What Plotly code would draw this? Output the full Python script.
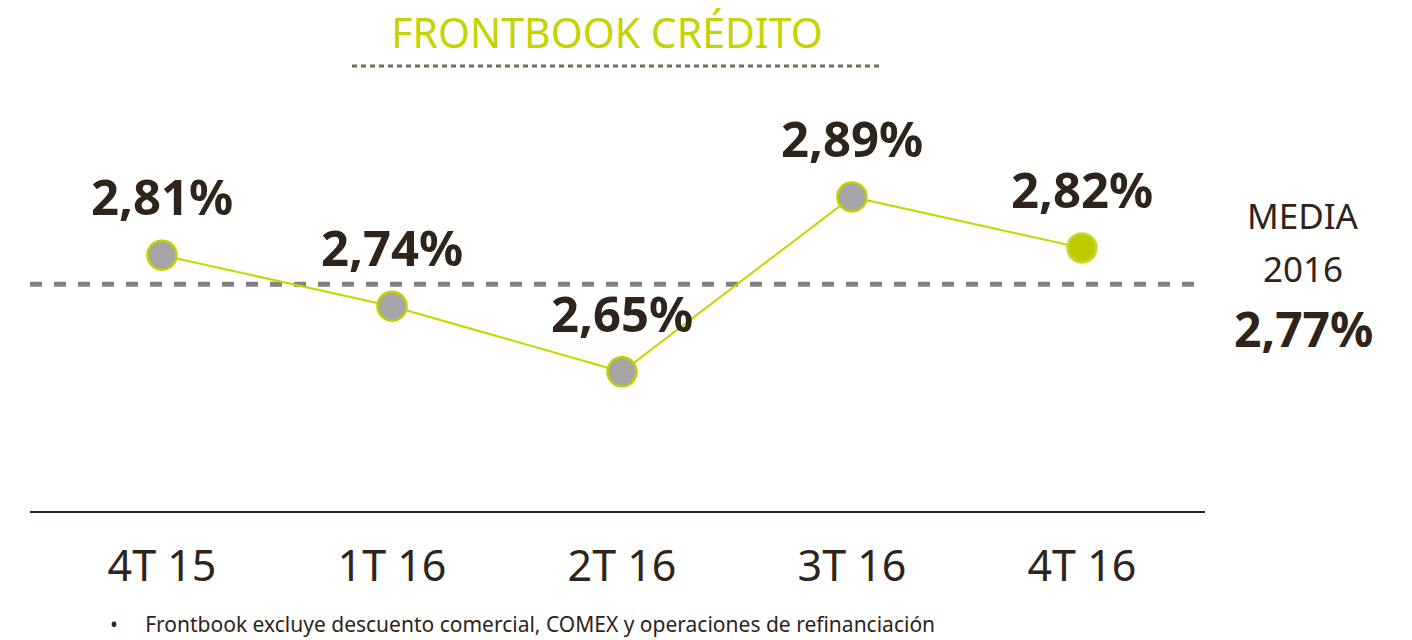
import plotly.graph_objects as go

categories = ["4T 15", "1T 16", "2T 16", "3T 16", "4T 16"]
values = [2.81, 2.74, 2.65, 2.89, 2.82]
value_labels = ["2,81%", "2,74%", "2,65%", "2,89%", "2,82%"]
mean_value = 2.77
mean_label = "2,77%"
title_text = "FRONTBOOK CRÉDITO"
footnote = "•     Frontbook excluye descuento comercial, COMEX y operaciones de refinanciación"

GREEN = "#c3cf00"
DARK = "#2e241a"
GREY = "#a5a5a5"

x = list(range(len(categories)))

fig = go.Figure()

# mean dashed line
fig.add_trace(go.Scatter(
    x=[-0.574, 4.49], y=[mean_value, mean_value], mode="lines",
    line=dict(color="#808080", width=5, dash="12px,12px"),
    hoverinfo="skip", showlegend=False))

marker_fill = [GREY] * (len(values) - 1) + ["#bfcb00"]
marker_line = [GREEN] * (len(values) - 1) + ["#cad630"]

fig.add_trace(go.Scatter(
    x=x, y=values, mode="lines+markers",
    line=dict(color="#c8d400", width=2),
    marker=dict(size=29, color=marker_fill, line=dict(color=marker_line, width=2.5)),
    showlegend=False))

for xi, v, lab in zip(x, values, value_labels):
    fig.add_annotation(x=xi, y=v, text="<b>%s</b>" % lab, showarrow=False,
                       yshift=59, font=dict(family="Noto Sans", size=49, color=DARK))

# right side mean text
fig.add_annotation(xref="paper", yref="y", x=1.0, y=mean_value, xanchor="center",
                   xshift=98, yshift=69, text="MEDIA", showarrow=False,
                   font=dict(family="Noto Sans", size=35, color=DARK))
fig.add_annotation(xref="paper", yref="y", x=1.0, y=mean_value, xanchor="center",
                   xshift=98, yshift=16, text="2016", showarrow=False,
                   font=dict(family="Noto Sans", size=35, color=DARK))
fig.add_annotation(xref="paper", yref="y", x=1.0, y=mean_value, xanchor="center",
                   xshift=98, yshift=-44, text="<b>%s</b>" % mean_label, showarrow=False,
                   font=dict(family="Noto Sans", size=48, color=DARK))

# title
fig.update_layout(title=dict(text=title_text, x=607 / 1412, xanchor="center",
                             y=1 - 34 / 640, yanchor="middle",
                             font=dict(family="Noto Sans", size=41, color="#c5d300")))
fig.add_shape(type="line", xref="paper", yref="paper",
              x0=(352 - 30) / 1175, x1=(880 - 30) / 1175,
              y0=(511 - 66) / 411, y1=(511 - 66) / 411,
              line=dict(color="#7a6a52", width=3, dash="5px,4px"))

fig.add_annotation(xref="paper", yref="paper", x=(108 - 30) / 1175, y=-(624 - 511) / 411,
                   xanchor="left", yanchor="middle", text=footnote, showarrow=False,
                   font=dict(family="Noto Sans", size=21, color=DARK))

fig.update_layout(
    width=1412, height=640,
    margin=dict(l=30, r=207, t=100, b=129),
    paper_bgcolor="white", plot_bgcolor="white",
    xaxis=dict(range=[-0.574, 4.535], tickmode="array", tickvals=x, ticktext=categories,
               showgrid=False, zeroline=False, showline=True, linecolor=DARK, linewidth=2,
               ticks="", ticklabelstandoff=16,
               tickfont=dict(family="Noto Sans", size=43, color=DARK)),
    yaxis=dict(range=[2.459, 3.023], visible=False, showgrid=False, zeroline=False),
)

fig.write_html("out.html", config={"displayModeBar": False},
               post_script="document.body.style.margin='0';document.body.style.overflow='hidden';")
